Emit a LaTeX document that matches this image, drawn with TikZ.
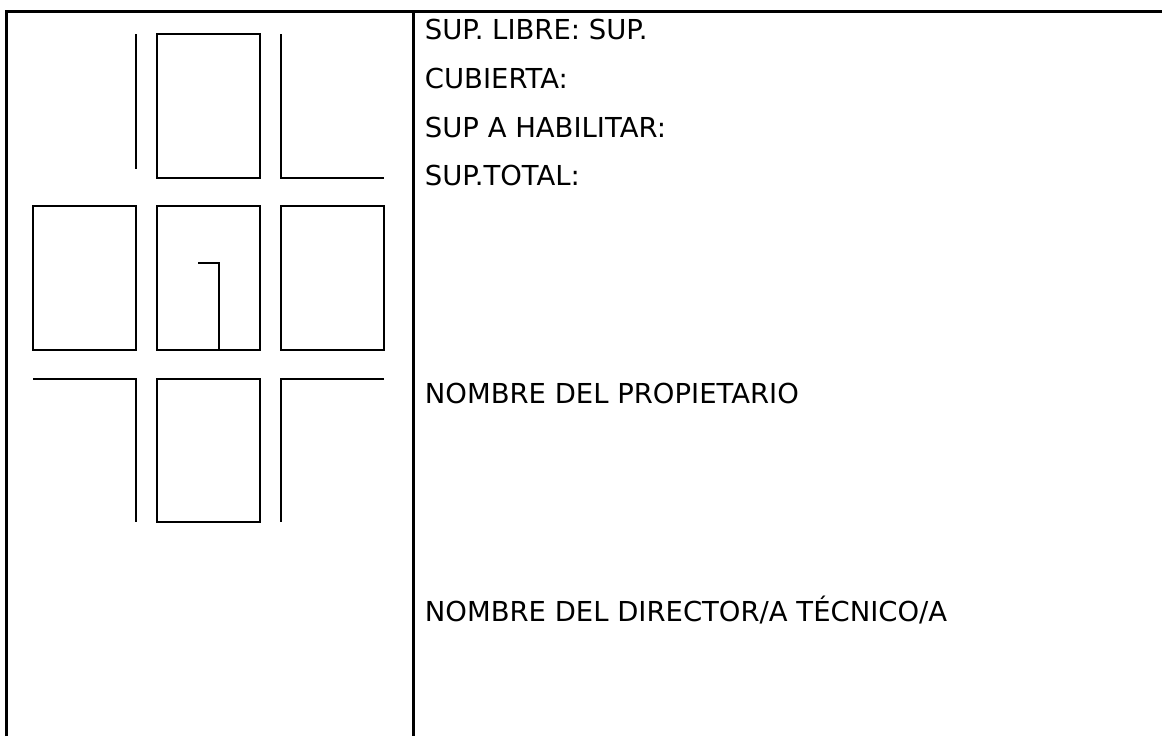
\documentclass[tikz,border=0pt]{standalone}
\usepackage{fontspec}
\setmainfont{DejaVu Sans}
\usetikzlibrary{positioning}

\begin{document}
\begin{tikzpicture}[x=0.75pt,y=-0.75pt,line cap=butt,line width=1.4pt,node distance=93pt,
	block/.style={rectangle,draw,inner sep=0pt,outer sep=0pt,minimum width=77.25pt,minimum height=107.6pt},
	rule/.style={line width=1.6pt},
	label/.style={anchor=base west,inner sep=0pt,font=\fontsize{20.6}{24}\selectfont}]
	
	\useasboundingbox (0,0) rectangle (1162,736);
	
	\node[block] (5) at (208.5,278) {};
	\node[block] (4) [left of=5] {};
	\node[block] (6) [right of=5] {};
	\node[block] (2) [above of=5,node distance=129pt] {};
	\node[block] (8) [below of=5,node distance=129.4pt] {};
	
	\coordinate (frame1) at (6.5,736);
	\coordinate (frame2) at (6.5,11.5);
	\coordinate (frame3) at (1162,11.5);
	\coordinate (frame4) at (413.5,11.5);
	\coordinate (frame5) at (413.5,736);
	\draw[rule] (frame1) -- (frame2) -- (frame3);
	\draw[rule] (frame4) -- (frame5);
	
	\coordinate (top1) at (4.east |- 2.north);
	\coordinate (top2) at (4.east |- 0,169);
	\coordinate (top3) at (6.west |- 2.north);
	\coordinate (top4) at (6.west |- 2.south);
	\coordinate (top5) at (6.east |- 2.south);
	\draw (top1) -- (top2);
	\draw (top3) -- (top4) -- (top5);
	
	\coordinate (hook1) at (198,263);
	\coordinate (hook2) at (219,263);
	\coordinate (hook3) at (219,350);
	\draw (hook1) -- (hook2) -- (hook3);
	
	\coordinate (low1) at (4.west |- 8.north);
	\coordinate (low2) at (4.east |- 8.north);
	\coordinate (low3) at (4.east |- 8.south);
	\coordinate (low4) at (6.east |- 8.north);
	\coordinate (low5) at (6.west |- 8.north);
	\coordinate (low6) at (6.west |- 8.south);
	\draw (low1) -- (low2) -- (low3);
	\draw (low4) -- (low5) -- (low6);
	
	\node[label] (sup1) at (424,39) {SUP. LIBRE: SUP.};
	\node[label] (sup2) at (424,88) {CUBIERTA:};
	\node[label] (sup3) at (424,137) {SUP A HABILITAR:};
	\node[label] (sup4) at (424,185) {SUP.TOTAL:};
	\node[label] (owner) at (424,403) {NOMBRE DEL PROPIETARIO};
	\node[label] (director) at (424,621) {NOMBRE DEL DIRECTOR/A TÉCNICO/A};
\end{tikzpicture}
\end{document}
